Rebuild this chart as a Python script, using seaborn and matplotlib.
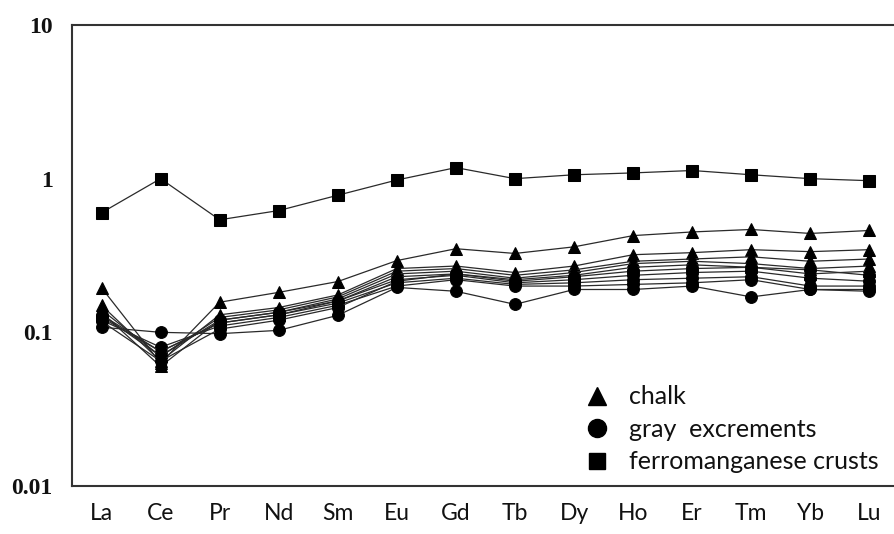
import numpy as np
import pandas as pd
import matplotlib
matplotlib.use("Agg")
import matplotlib.pyplot as plt
from matplotlib.lines import Line2D
import seaborn as sns

elements = ["La", "Ce", "Pr", "Nd", "Sm", "Eu", "Gd", "Tb", "Dy", "Ho", "Er", "Tm", "Yb", "Lu"]

chalk_1 = [0.195, 0.063, 0.157, 0.182, 0.214, 0.293, 0.35, 0.326, 0.36, 0.426, 0.45, 0.467, 0.44, 0.46]
chalk_2 = [0.15, 0.065, 0.13, 0.145, 0.175, 0.26, 0.27, 0.245, 0.27, 0.32, 0.33, 0.345, 0.335, 0.345]
chalk_3 = [0.14, 0.07, 0.125, 0.14, 0.17, 0.25, 0.26, 0.235, 0.255, 0.29, 0.30, 0.31, 0.29, 0.30]
chalk_4 = [0.135, 0.06, 0.12, 0.135, 0.165, 0.24, 0.25, 0.225, 0.245, 0.28, 0.29, 0.28, 0.26, 0.27]
chalk_5 = [0.13, 0.075, 0.115, 0.13, 0.16, 0.23, 0.24, 0.22, 0.235, 0.265, 0.275, 0.265, 0.24, 0.25]

gray_1 = [0.108, 0.10, 0.098, 0.103, 0.129, 0.196, 0.185, 0.152, 0.19, 0.19, 0.20, 0.17, 0.19, 0.185]
gray_2 = [0.12, 0.08, 0.11, 0.125, 0.15, 0.20, 0.22, 0.20, 0.20, 0.205, 0.21, 0.22, 0.19, 0.19]
gray_3 = [0.125, 0.075, 0.115, 0.13, 0.155, 0.21, 0.225, 0.205, 0.21, 0.22, 0.225, 0.23, 0.20, 0.20]
gray_4 = [0.13, 0.07, 0.12, 0.135, 0.16, 0.22, 0.235, 0.21, 0.22, 0.235, 0.245, 0.25, 0.225, 0.215]
gray_5 = [0.118, 0.065, 0.105, 0.12, 0.145, 0.215, 0.24, 0.215, 0.23, 0.25, 0.26, 0.265, 0.255, 0.235]

ferro_1 = [0.60, 1.0, 0.54, 0.62, 0.78, 0.98, 1.18, 1.0, 1.06, 1.09, 1.13, 1.06, 1.0, 0.97]

legend_labels = ["chalk", "gray  excrements", "ferromanganese crusts"]
y_ticks = [0.01, 0.1, 1, 10]
y_tick_labels = ["0.01", "0.1", "1", "10"]

series = [
    ("c1", "chalk", chalk_1), ("c2", "chalk", chalk_2), ("c3", "chalk", chalk_3),
    ("c4", "chalk", chalk_4), ("c5", "chalk", chalk_5),
    ("g1", "gray", gray_1), ("g2", "gray", gray_2), ("g3", "gray", gray_3),
    ("g4", "gray", gray_4), ("g5", "gray", gray_5),
    ("f1", "ferro", ferro_1),
]
rows = []
for sid, typ, vals in series:
    for i, (el, v) in enumerate(zip(elements, vals)):
        rows.append({"sample": sid, "type": typ, "element": el, "idx": i, "value": v})
df = pd.DataFrame(rows)

sns.set_theme(style="white")
fig = plt.figure(figsize=(8.94, 5.34), dpi=100)
ax = fig.add_axes([0.0805, 0.0899, 0.925, 0.8633])

markers = {"chalk": "^", "gray": "o", "ferro": "s"}
sizes = {"chalk": 8.5, "gray": 8.5, "ferro": 8.5}
for sid, typ, vals in series:
    sub = df[df["sample"] == sid]
    sns.lineplot(data=sub, x="idx", y="value", ax=ax, color="#2a2a2a",
                 linewidth=0.9, marker=markers[typ], markersize=sizes[typ],
                 markerfacecolor="black", markeredgecolor="black",
                 estimator=None, sort=False, legend=False)

ax.set_yscale("log")
ax.set_ylim(0.01, 10)
ax.set_xlim(-0.5, 13.5)
ax.set_xticks(range(len(elements)))
ax.set_xticklabels(elements, fontfamily="Lato", fontsize=16.5, color="#111111")
ax.set_yticks(y_ticks)
ax.set_yticklabels(y_tick_labels, fontfamily="Liberation Serif", fontweight="bold",
                   fontsize=17, color="#111111")
ax.yaxis.set_minor_locator(matplotlib.ticker.NullLocator())
ax.tick_params(axis="both", length=0)
ax.tick_params(axis="x", pad=12)
ax.tick_params(axis="y", pad=14)
ax.set_xlabel("")
ax.set_ylabel("")
ax.grid(False)
for name in ["left", "bottom", "top", "right"]:
    ax.spines[name].set_color("#333333")
    ax.spines[name].set_linewidth(1.5)

handles = [
    Line2D([], [], linestyle="none", marker="^", markersize=13, color="black"),
    Line2D([], [], linestyle="none", marker="o", markersize=13, color="black"),
    Line2D([], [], linestyle="none", marker="s", markersize=12, color="black"),
]
leg = ax.legend(handles, legend_labels, loc="lower right",
                bbox_to_anchor=(0.991, 0.0), frameon=False,
                prop={"family": "Lato", "size": 18}, labelspacing=0.38,
                handlelength=1.0, handletextpad=0.8, borderaxespad=0.1)
for t in leg.get_texts():
    t.set_color("#111111")

fig.savefig("out.png", dpi=100)
